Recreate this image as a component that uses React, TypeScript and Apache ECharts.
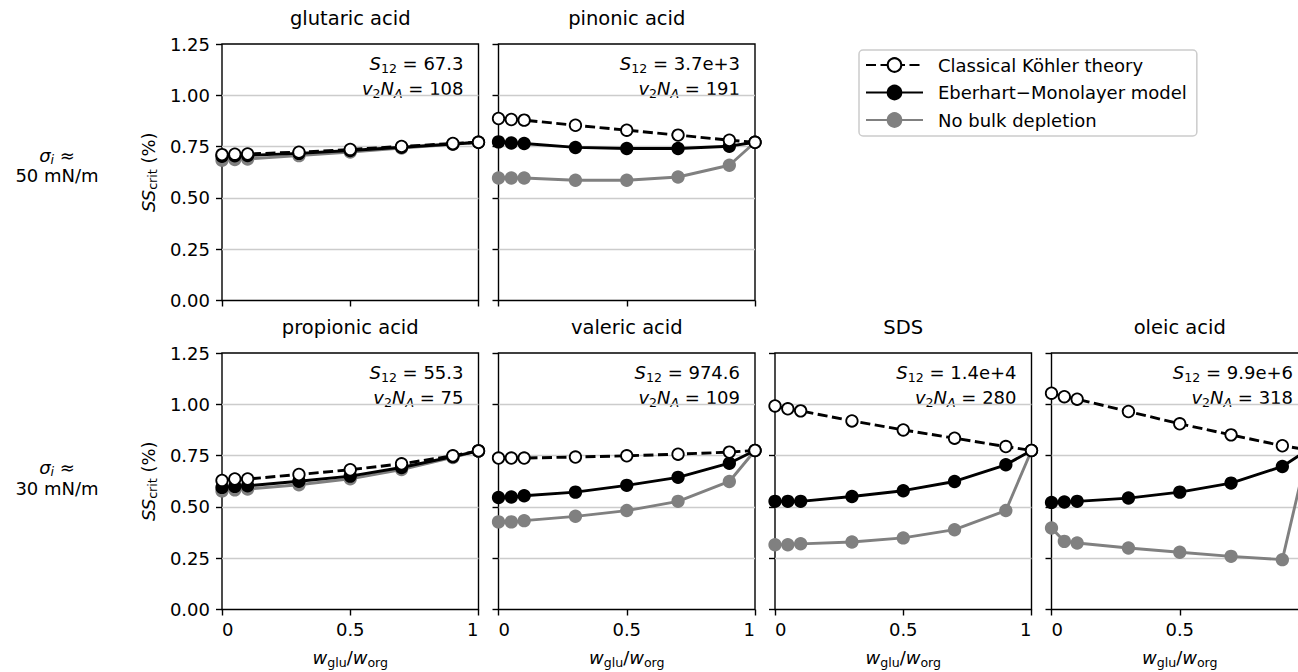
import React, { useEffect, useRef } from "react";
import * as echarts from "echarts";

// ---------- data ----------
const X = [0, 0.05, 0.1, 0.3, 0.5, 0.7, 0.9, 1];

const PANEL_NAMES = ["glutaric acid", "pinonic acid", "propionic acid", "valeric acid", "SDS", "oleic acid"];
const S12_LABELS = ["67.3", "3.7e+3", "55.3", "974.6", "1.4e+4", "9.9e+6"];
const V2NA_LABELS = ["108", "191", "75", "109", "280", "318"];
const ROW_LABELS = ["50 mN/m", "30 mN/m"];
const SERIES_NAMES = ["Classical Köhler theory", "Eberhart\u2212Monolayer model", "No bulk depletion"];

const glutaricClassical = [0.711, 0.713, 0.714, 0.723, 0.736, 0.751, 0.765, 0.771];
const glutaricEberhart = [0.703, 0.705, 0.707, 0.717, 0.731, 0.747, 0.763, 0.771];
const glutaricNoBulk = [0.684, 0.687, 0.69, 0.706, 0.724, 0.743, 0.761, 0.771];

const pinonicClassical = [0.887, 0.882, 0.879, 0.854, 0.83, 0.806, 0.781, 0.771];
const pinonicEberhart = [0.773, 0.768, 0.765, 0.746, 0.741, 0.741, 0.752, 0.771];
const pinonicNoBulk = [0.597, 0.597, 0.597, 0.586, 0.586, 0.602, 0.659, 0.771];

const propionicClassical = [0.629, 0.636, 0.636, 0.658, 0.681, 0.71, 0.749, 0.773];
const propionicEberhart = [0.595, 0.6, 0.603, 0.625, 0.65, 0.692, 0.745, 0.773];
const propionicNoBulk = [0.578, 0.583, 0.587, 0.608, 0.637, 0.682, 0.741, 0.773];

const valericClassical = [0.738, 0.738, 0.738, 0.743, 0.749, 0.757, 0.767, 0.775];
const valericEberhart = [0.546, 0.548, 0.554, 0.572, 0.605, 0.644, 0.713, 0.775];
const valericNoBulk = [0.427, 0.427, 0.433, 0.454, 0.482, 0.527, 0.624, 0.775];

const sdsClassical = [0.992, 0.978, 0.968, 0.919, 0.875, 0.835, 0.794, 0.775];
const sdsEberhart = [0.527, 0.527, 0.527, 0.551, 0.579, 0.624, 0.705, 0.775];
const sdsNoBulk = [0.316, 0.316, 0.32, 0.329, 0.349, 0.389, 0.482, 0.775];

const oleicClassical = [1.054, 1.037, 1.025, 0.965, 0.905, 0.851, 0.798, 0.778];
const oleicEberhart = [0.522, 0.524, 0.527, 0.543, 0.572, 0.616, 0.697, 0.778];
const oleicNoBulk = [0.397, 0.332, 0.324, 0.3, 0.279, 0.259, 0.243, 0.778];

const PANEL_DATA = [
  [glutaricClassical, glutaricEberhart, glutaricNoBulk],
  [pinonicClassical, pinonicEberhart, pinonicNoBulk],
  [propionicClassical, propionicEberhart, propionicNoBulk],
  [valericClassical, valericEberhart, valericNoBulk],
  [sdsClassical, sdsEberhart, sdsNoBulk],
  [oleicClassical, oleicEberhart, oleicNoBulk],
];

// ---------- layout ----------
const CHART_W = 1330; // wider than the viewport; the last panel is cut off like in the original
const GRID_LEFT = [222, 498.5, 222, 498.5, 775, 1051.5];
const GRID_TOP = [44, 44, 353, 353, 353, 353];
const GW = 256.5;
const GH = 256.5;
const ROW_LABEL_Y = [
  [155, 175],
  [467, 488],
];
const FONT = '"DejaVu Sans", sans-serif';
const FS = 18;

const richBase = {
  n: { fontSize: FS, fontFamily: FONT, color: "#000", fill: "#000", lineHeight: 22 },
  it: { fontSize: FS, fontFamily: FONT, fontStyle: "italic", color: "#000", fill: "#000", lineHeight: 22 },
  sub: { fontSize: 12.6, fontFamily: FONT, color: "#000", fill: "#000", lineHeight: 12, verticalAlign: "bottom" },
  subi: { fontSize: 12.6, fontFamily: FONT, fontStyle: "italic", color: "#000", fill: "#000", lineHeight: 12, verticalAlign: "bottom" },
};

export default function App() {
  const ref = useRef<HTMLDivElement>(null);

  useEffect(() => {
    if (!ref.current) return;
    const chart = echarts.init(ref.current, undefined, { renderer: "svg" });

    const grid: any[] = [];
    const xAxis: any[] = [];
    const yAxis: any[] = [];
    const series: any[] = [];
    const graphic: any[] = [];

    for (let i = 0; i < 6; i++) {
      const bottomRow = i >= 2;
      const leftCol = i === 0 || i === 2;
      grid.push({
        left: GRID_LEFT[i],
        top: GRID_TOP[i],
        width: GW,
        height: GH,
        show: true,
        borderColor: "#000",
        borderWidth: 1.4,
        backgroundColor: "transparent",
        containLabel: false,
      });
      xAxis.push({
        type: "value",
        gridIndex: i,
        min: 0,
        max: 1,
        interval: 0.5,
        axisLine: { show: false },
        axisTick: { show: true, length: 6, lineStyle: { color: "#000", width: 1.4 } },
        axisLabel: {
          show: bottomRow,
          fontSize: FS,
          fontFamily: FONT,
          color: "#000",
          margin: 11,
          alignMinLabel: "left",
          alignMaxLabel: "right",
        },
        splitLine: { show: false },
        name: bottomRow ? "{it|w}{sub|glu}{n|/}{it|w}{sub|org}" : "",
        nameLocation: "middle",
        nameGap: 37,
        nameTextStyle: { rich: richBase, verticalAlign: "top" },
      });
      yAxis.push({
        type: "value",
        gridIndex: i,
        min: 0,
        max: 1.25,
        interval: 0.25,
        axisLine: { show: false },
        axisTick: { show: true, length: 6, lineStyle: { color: "#000", width: 1.4 } },
        axisLabel: {
          show: leftCol,
          fontSize: FS,
          fontFamily: FONT,
          color: "#000",
          margin: 12,
          formatter: (v: number) => v.toFixed(2),
        },
        splitLine: {
          show: true,
          showMinLine: false,
          showMaxLine: false,
          lineStyle: { color: "#cccccc", width: 1.3 },
        },
        name: leftCol ? "{it|SS}{sub|crit}{n| (%)}" : "",
        nameLocation: "middle",
        nameRotate: 90,
        nameGap: 63,
        nameTextStyle: { rich: richBase },
      });

      const [cl, eb, nb] = PANEL_DATA[i];
      const pts = (arr: number[]) => X.map((x, k) => [x, arr[k]]);
      series.push({
        type: "line",
        name: SERIES_NAMES[2],
        xAxisIndex: i,
        yAxisIndex: i,
        data: pts(nb),
        symbol: "circle",
        symbolSize: 11.5,
        lineStyle: { color: "#808080", width: 2.9 },
        itemStyle: { color: "#808080", borderColor: "#808080", borderWidth: 1.8 },
        z: 2,
        clip: true,
        silent: true,
      });
      series.push({
        type: "line",
        name: SERIES_NAMES[1],
        xAxisIndex: i,
        yAxisIndex: i,
        data: pts(eb),
        symbol: "circle",
        symbolSize: 11.5,
        lineStyle: { color: "#000", width: 2.9 },
        itemStyle: { color: "#000", borderColor: "#000", borderWidth: 1.8 },
        z: 3,
        clip: true,
        silent: true,
      });
      series.push({
        type: "line",
        name: SERIES_NAMES[0],
        xAxisIndex: i,
        yAxisIndex: i,
        data: pts(cl),
        symbol: "circle",
        symbolSize: 11.5,
        lineStyle: { color: "#000", width: 2.9, type: [10, 4.5] },
        itemStyle: { color: "#fff", borderColor: "#000", borderWidth: 1.8 },
        z: 4,
        clip: true,
        silent: true,
      });

      // panel title
      graphic.push({
        type: "text",
        x: GRID_LEFT[i] + GW / 2,
        y: GRID_TOP[i] - 25.5,
        silent: true,
        style: {
          text: PANEL_NAMES[i],
          fontSize: 19.5,
          fontFamily: FONT,
          fill: "#000",
          textAlign: "center",
          align: "center",
          textVerticalAlign: "middle",
          verticalAlign: "middle",
        },
      });
      // annotations
      const ax = GRID_LEFT[i] + GW - 15;
      graphic.push({
        type: "text",
        x: ax,
        y: GRID_TOP[i] + 19.5,
        silent: true,
        style: {
          text: `{it|S}{sub|12}{n| = ${S12_LABELS[i]}}`,
          rich: richBase,
          fill: "#000",
          textAlign: "right",
          align: "right",
          textVerticalAlign: "middle",
          verticalAlign: "middle",
        },
      });
      graphic.push({
        type: "text",
        x: ax,
        y: GRID_TOP[i] + 44.5,
        silent: true,
        style: {
          text: `{it|v}{sub|2}{it|N}{subi|A}{n| = ${V2NA_LABELS[i]}}`,
          rich: richBase,
          fill: "#000",
          textAlign: "right",
          align: "right",
          textVerticalAlign: "middle",
          verticalAlign: "middle",
        },
      });
    }

    // row labels
    ROW_LABEL_Y.forEach(([y1, y2], r) => {
      graphic.push({
        type: "text",
        x: 57,
        y: y1,
        silent: true,
        style: {
          text: "{it|σ}{subi|i}{n| ≈}",
          rich: richBase,
          fill: "#000",
          textAlign: "center",
          align: "center",
          textVerticalAlign: "middle",
          verticalAlign: "middle",
        },
      });
      graphic.push({
        type: "text",
        x: 57,
        y: y2,
        silent: true,
        style: {
          text: ROW_LABELS[r],
          fontSize: FS,
          fontFamily: FONT,
          fill: "#000",
          textAlign: "center",
          align: "center",
          textVerticalAlign: "middle",
          verticalAlign: "middle",
        },
      });
    });

    chart.setOption({
      animation: false,
      backgroundColor: "#fff",
      textStyle: { fontFamily: FONT },
      grid,
      xAxis,
      yAxis,
      series,
      graphic,
      legend: {
        data: SERIES_NAMES,
        orient: "vertical",
        left: 859,
        top: 50,
        padding: [6, 10, 7, 6],
        itemGap: 9.5,
        itemWidth: 57,
        itemHeight: 17,
        borderColor: "#cccccc",
        borderWidth: 1.5,
        borderRadius: 4,
        selectedMode: false,
        textStyle: {
          fontSize: FS,
          fontFamily: FONT,
          color: "#000",
          lineHeight: 18,
          padding: [0, 0, 0, 10],
        },
      },
    });

    return () => chart.dispose();
  }, []);

  return (
    <div
      style={{
        position: "absolute",
        left: 0,
        top: 0,
        width: 1298,
        height: 672,
        overflow: "hidden",
        background: "#fff",
      }}
    >
      <div ref={ref} style={{ width: CHART_W, height: 672 }} />
    </div>
  );
}
